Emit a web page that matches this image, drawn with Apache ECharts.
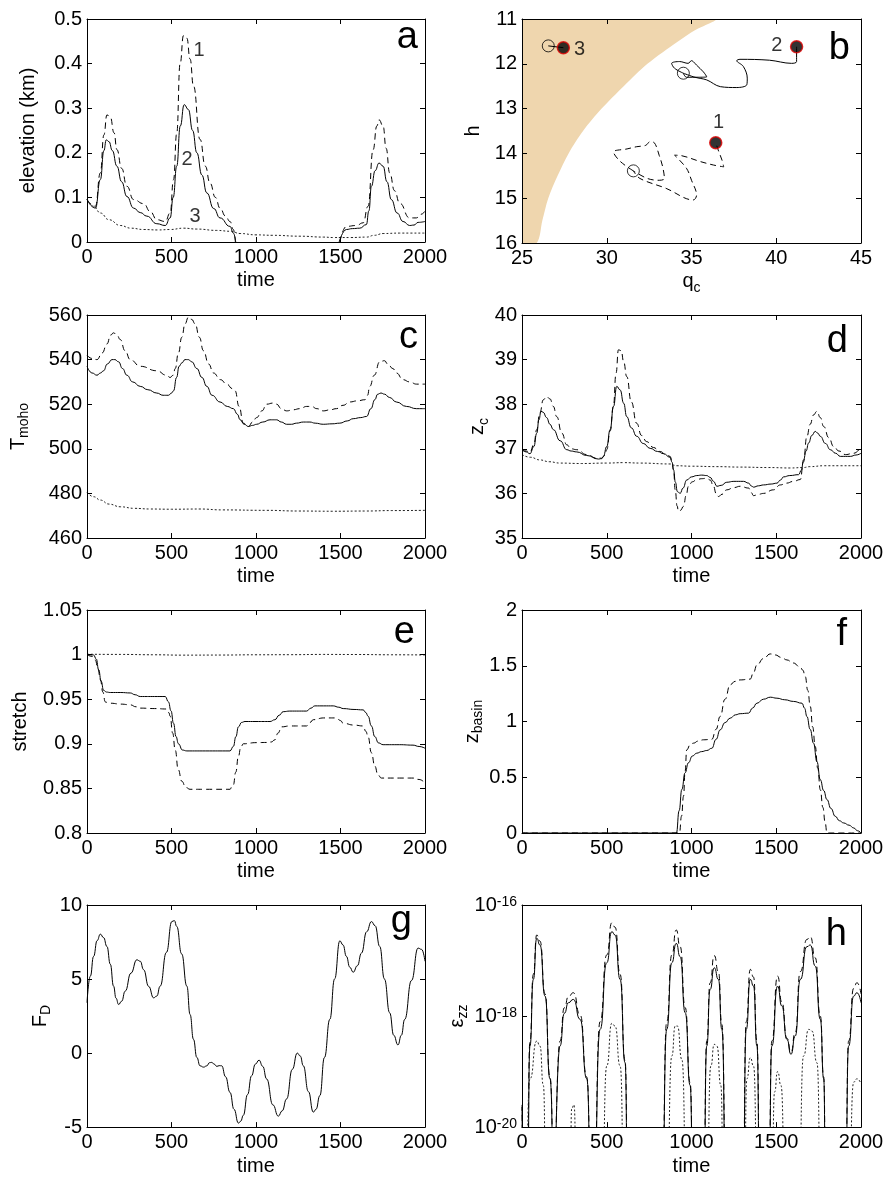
<!DOCTYPE html>
<html><head><meta charset="utf-8">
<script src="https://cdn.jsdelivr.net/npm/echarts@6/dist/echarts.min.js"></script>
<style>html,body{margin:0;padding:0;background:#fff}#c{width:887px;height:1180px}</style>
</head><body><div id="c"></div>
<script>
// ---------------- DATA ----------------
// panel a: elevation (km) vs time  [time, value]
const aDashed = [[0,0.095],[50,0.08],[79,0.155],[100,0.24],[118,0.285],[138,0.28],[160,0.245],[177,0.207],[205,0.165],[236,0.125],[276,0.095],[335,0.086],[375,0.068],[413,0.05],[463,0.046],[492,0.065],[512,0.14],[531,0.244],[551,0.40],[571,0.463],[591,0.457],[610,0.41],[630,0.35],[669,0.23],[700,0.17],[728,0.132],[760,0.10],[787,0.076],[820,0.058],[846,0.046],[866,0.028],[878,0],[880,null],[1494,null],[1496,0],[1535,0.035],[1594,0.037],[1634,0.043],[1663,0.08],[1693,0.207],[1715,0.26],[1728,0.274],[1752,0.26],[1770,0.21],[1791,0.155],[1820,0.115],[1850,0.087],[1909,0.054],[1949,0.054],[1975,0.062],[2000,0.069]];
const aSolid = [[0,0.095],[50,0.076],[79,0.14],[100,0.205],[114,0.229],[130,0.225],[150,0.205],[177,0.17],[205,0.135],[236,0.102],[276,0.076],[315,0.066],[354,0.058],[413,0.041],[463,0.037],[492,0.054],[510,0.1],[531,0.17],[552,0.26],[575,0.308],[600,0.297],[625,0.25],[650,0.2],[680,0.15],[709,0.11],[750,0.075],[787,0.054],[846,0.035],[866,0.02],[880,0],[882,null],[1490,null],[1492,0],[1535,0.028],[1570,0.03],[1614,0.031],[1653,0.039],[1668,0.07],[1683,0.125],[1705,0.16],[1728,0.177],[1752,0.17],[1775,0.135],[1801,0.095],[1835,0.065],[1870,0.046],[1909,0.037],[1935,0.038],[1959,0.044],[2000,0.046]];
const aDotted = [[0,0.096],[40,0.08],[79,0.065],[130,0.05],[197,0.037],[260,0.031],[335,0.028],[420,0.027],[492,0.028],[571,0.031],[650,0.029],[768,0.026],[850,0.024],[906,0.019],[1000,0.016],[1100,0.015],[1260,0.013],[1400,0.011],[1457,0.01],[1560,0.01],[1654,0.011],[1700,0.015],[1752,0.019],[1850,0.02],[2000,0.02]];
const aLabels = [{name:'1',value:[663,0.43]},{name:'2',value:[592,0.184]},{name:'3',value:[639,0.058]}];

// panel b: h vs q_c trajectories [q_c, h]
const bRegion = [[25,11],[36.4,11],[35.2,11.25],[34.2,11.5],[32.4,12],[31.0,12.5],[29.7,13],[28.6,13.5],[27.75,14],[27.1,14.5],[26.55,15],[26.2,15.5],[25.87,16],[25,16]];
const bDashed = [[31.57,14.39],[30.8,14.18],[30.4,13.97],[31.2,13.9],[31.77,13.85],[32.3,13.82],[32.55,13.74],[32.8,13.76],[33.1,14.05],[33.3,14.3],[33.4,14.56],[33.1,14.6],[32.4,14.56],[31.57,14.39],[31.96,14.56],[33.5,14.78],[35.1,15.04],[35.3,14.93],[35.0,14.6],[34.7,14.33],[34.0,14.04],[34.4,14.05],[35.5,14.18],[36.3,14.26],[36.9,14.3],[36.8,14.15],[36.6,13.95],[36.43,13.76]];
const bSolid = [[34.52,12.21],[34.0,12.1],[33.83,11.99],[34.3,11.95],[34.8,11.99],[35.0,11.93],[35.1,11.95],[35.3,12.03],[35.7,12.18],[35.9,12.29],[35.4,12.3],[34.7,12.3],[34.52,12.21],[35.2,12.3],[35.9,12.36],[36.7,12.51],[37.67,12.53],[38.26,12.47],[38.29,12.32],[38.06,12.06],[37.67,11.93],[37.86,11.9],[39.6,11.92],[40.9,11.99],[41.2,11.95],[41.2,11.62]];
const bShort = [[26.55,11.6],[27.44,11.64]];
const bStart = [[31.57,14.39],[34.52,12.21],[26.55,11.6]];
const bEnd = [[36.43,13.76],[41.2,11.62],[27.44,11.64]];
const bLabels = [{name:'1',value:[36.6,13.32]},{name:'2',value:[40.04,11.6]},{name:'3',value:[28.4,11.69]}];

// panel c: T_moho
const cDashed = [[0,542],[30,540.5],[59,540],[90,543],[118,547],[140,551],[157,552],[177,551],[197,549],[225,544],[256,540],[315,537],[413,535],[470,533],[492,532],[510,533],[522,536],[541,543],[561,550],[580,556],[600,559],[620,558],[640,556],[665,550],[689,544],[720,538],[748,534],[790,531],[827,529],[860,527],[876,526],[900,519],[925,511.5],[955,510],[980,512],[1004,514],[1035,517],[1063,520],[1100,520.5],[1122,520],[1150,518],[1181,517],[1220,517.5],[1260,518],[1300,519],[1329,519],[1360,518],[1398,517],[1440,517.5],[1476,518],[1515,519.5],[1555,521],[1600,521.5],[1644,522],[1660,524],[1673,528],[1700,533],[1732,539],[1760,539.5],[1780,538],[1810,536],[1831,534],[1870,531],[1909,530],[1950,529],[2000,529]];
const cSolid = [[0,537],[30,534],[59,533],[80,534],[98,535],[120,538],[148,540],[165,540],[187,539],[210,536],[236,533],[270,530],[315,528],[360,526.5],[413,525],[450,524],[482,524],[500,525],[512,526],[530,532],[545,537],[561,538.5],[580,540],[600,540],[620,539],[650,536],[680,532],[709,528],[740,524],[787,521],[830,519],[866,518],[890,515.5],[906,513],[930,511],[955,510],[980,510.5],[1004,511],[1040,512],[1083,513],[1110,513],[1122,513],[1150,512],[1181,511],[1210,511],[1240,511.5],[1280,512],[1319,512],[1350,511.5],[1398,511],[1450,511.2],[1496,511.5],[1540,512.5],[1575,513.5],[1620,514],[1654,514.5],[1680,518],[1703,522],[1720,524.5],[1740,525],[1760,524.5],[1791,523],[1830,521],[1890,519],[1949,518],[2000,518]];
const cDotted = [[0,480.5],[40,478.5],[79,477],[130,475.2],[197,474],[280,473.3],[374,473],[500,472.9],[669,473],[800,472.6],[1063,472.4],[1250,472.1],[1457,472],[1650,472.1],[1800,472.3],[2000,472.4]];

// panel d: z_c
const dDashed = [[0,36.98],[25,36.95],[47,36.92],[70,37.1],[87,37.43],[105,37.8],[126,38.1],[145,38.17],[165,38.12],[185,37.95],[205,37.72],[235,37.35],[264,37.09],[290,37.0],[323,36.98],[382,36.87],[441,36.79],[470,36.79],[488,36.85],[500,36.98],[520,37.4],[539,37.95],[555,38.7],[569,39.22],[585,39.2],[600,38.95],[618,38.62],[645,38.05],[677,37.57],[705,37.3],[736,37.16],[775,37.03],[815,36.94],[850,36.87],[874,36.83],[885,36.7],[894,36.53],[904,36.08],[915,35.72],[923,35.6],[935,35.62],[953,35.71],[968,35.95],[982,36.16],[1005,36.26],[1031,36.31],[1060,36.33],[1090,36.34],[1110,36.3],[1130,36.16],[1145,36.0],[1159,35.93],[1180,35.98],[1208,36.08],[1250,36.13],[1287,36.16],[1337,36.12],[1352,36.02],[1366,35.95],[1395,35.98],[1425,36.0],[1484,36.08],[1524,36.19],[1560,36.23],[1602,36.27],[1642,36.31],[1660,36.7],[1681,37.28],[1700,37.55],[1720,37.76],[1740,37.84],[1760,37.7],[1780,37.5],[1810,37.25],[1839,37.05],[1870,36.95],[1908,36.87],[1957,36.9],[2000,37.05]];
const dSolid = [[0,36.98],[25,36.93],[47,36.89],[70,37.05],[87,37.35],[100,37.65],[112,37.84],[125,37.82],[145,37.7],[165,37.55],[185,37.43],[225,37.18],[264,36.98],[290,36.95],[323,36.93],[382,36.85],[451,36.77],[470,36.78],[480,36.83],[500,37.05],[520,37.43],[540,37.95],[559,38.4],[579,38.32],[600,38.02],[618,37.72],[645,37.47],[677,37.28],[715,37.12],[756,37.01],[800,36.94],[835,36.89],[874,36.81],[885,36.7],[894,36.53],[905,36.25],[917,36.04],[933,36.0],[950,36.12],[972,36.3],[1000,36.37],[1031,36.4],[1060,36.41],[1090,36.4],[1110,36.36],[1130,36.27],[1150,36.16],[1175,36.18],[1208,36.25],[1250,36.27],[1307,36.27],[1337,36.23],[1352,36.17],[1366,36.14],[1395,36.17],[1425,36.19],[1470,36.21],[1504,36.23],[1525,36.3],[1543,36.37],[1580,36.4],[1632,36.42],[1648,36.52],[1661,36.75],[1676,36.95],[1691,37.13],[1710,37.3],[1730,37.39],[1745,37.35],[1760,37.28],[1790,37.12],[1819,36.98],[1850,36.9],[1878,36.83],[1937,36.83],[1970,36.86],[2000,36.9]];
const dDotted = [[0,36.87],[50,36.81],[106,36.75],[160,36.71],[224,36.68],[350,36.67],[500,36.68],[598,36.69],[700,36.68],[874,36.66],[900,36.63],[913,36.62],[1000,36.61],[1150,36.6],[1287,36.59],[1450,36.58],[1583,36.57],[1660,36.58],[1700,36.6],[1780,36.62],[2000,36.62]];

// panel e: stretch
const eSolid = [[0,1.0],[39,0.9996],[55,0.995],[69,0.983],[84,0.97],[98,0.96],[115,0.958],[138,0.9575],[200,0.9575],[256,0.957],[285,0.955],[315,0.953],[400,0.953],[463,0.953],[482,0.947],[497,0.937],[512,0.923],[527,0.908],[541,0.9],[565,0.893],[591,0.892],[700,0.892],[846,0.892],[866,0.897],[881,0.908],[896,0.919],[915,0.924],[935,0.925],[1000,0.925],[1083,0.925],[1112,0.927],[1137,0.932],[1161,0.936],[1200,0.9367],[1299,0.9367],[1325,0.94],[1348,0.9425],[1400,0.9425],[1457,0.9425],[1490,0.941],[1516,0.9395],[1580,0.9385],[1634,0.938],[1650,0.935],[1663,0.931],[1683,0.92],[1703,0.908],[1725,0.901],[1752,0.899],[1850,0.899],[1929,0.8985],[1965,0.897],[2000,0.895]];
const eDashed = [[0,1.0],[30,0.998],[49,0.994],[65,0.984],[79,0.972],[94,0.958],[108,0.947],[125,0.9457],[138,0.9455],[200,0.9445],[256,0.9437],[290,0.9415],[315,0.94],[400,0.9395],[472,0.939],[484,0.935],[492,0.931],[507,0.912],[522,0.893],[540,0.871],[561,0.858],[585,0.851],[610,0.849],[700,0.849],[846,0.849],[858,0.852],[866,0.854],[880,0.868],[896,0.886],[910,0.896],[925,0.9],[1000,0.9013],[1063,0.9015],[1090,0.902],[1112,0.9045],[1130,0.912],[1152,0.919],[1200,0.92],[1299,0.92],[1320,0.924],[1339,0.927],[1400,0.929],[1476,0.929],[1500,0.926],[1516,0.923],[1580,0.921],[1634,0.92],[1650,0.914],[1663,0.908],[1683,0.89],[1703,0.875],[1722,0.865],[1742,0.8616],[1850,0.8616],[1929,0.8616],[1965,0.86],[2000,0.856]];
const eDotted = [[0,1.0004],[200,1.0002],[400,0.9998],[560,0.9994],[800,0.9995],[1000,0.9998],[1200,0.9999],[1400,1.0002],[1600,1.0001],[1800,0.9998],[2000,0.9996]];

// panel f: z_basin
const fSolid = [[0,0],[911,0],[927,0.2],[943,0.39],[962,0.54],[982,0.63],[1005,0.69],[1031,0.716],[1060,0.73],[1090,0.74],[1120,0.76],[1145,0.84],[1169,0.925],[1198,0.99],[1228,1.03],[1260,1.06],[1287,1.07],[1337,1.075],[1360,1.12],[1386,1.164],[1425,1.2],[1465,1.218],[1504,1.209],[1550,1.195],[1602,1.18],[1652,1.164],[1667,1.12],[1681,1.045],[1700,0.93],[1720,0.806],[1740,0.64],[1760,0.478],[1780,0.38],[1799,0.3],[1823,0.22],[1848,0.15],[1873,0.11],[1898,0.09],[1930,0.07],[1957,0.045],[1980,0.02],[2000,0]];
const fDashed = [[0,0],[929,0],[941,0.15],[953,0.33],[962,0.55],[972,0.746],[992,0.79],[1012,0.806],[1040,0.825],[1071,0.836],[1120,0.84],[1145,0.93],[1169,1.045],[1198,1.2],[1228,1.33],[1257,1.36],[1287,1.373],[1346,1.38],[1366,1.44],[1386,1.507],[1425,1.565],[1465,1.606],[1494,1.597],[1530,1.575],[1563,1.552],[1600,1.525],[1642,1.487],[1657,1.46],[1671,1.403],[1686,1.28],[1701,1.134],[1715,0.95],[1730,0.776],[1745,0.58],[1760,0.388],[1775,0.23],[1789,0.09],[1799,0],[2000,0]];

// panel g: F_D
const gSolid = [[0,3.4],[20,5.2],[39,6.53],[60,7.6],[79,8.03],[98,7.8],[118,7.2],[138,6.0],[157,4.52],[172,3.7],[187,3.28],[205,3.5],[226,4.18],[260,5.4],[295,6.3],[315,6.2],[335,5.63],[365,4.5],[394,3.73],[413,3.85],[433,4.52],[470,6.8],[502,8.88],[517,8.95],[531,8.55],[560,6.7],[591,4.52],[610,2.6],[630,0.93],[650,-0.3],[669,-0.86],[690,-0.95],[709,-0.86],[725,-0.65],[738,-0.63],[753,-0.75],[768,-0.9],[782,-0.85],[797,-0.86],[820,-1.6],[846,-2.65],[870,-3.8],[896,-4.73],[910,-4.6],[925,-4.2],[950,-2.8],[974,-1.53],[996,-0.75],[1018,-0.48],[1040,-0.9],[1063,-1.75],[1100,-3.5],[1132,-4.26],[1155,-3.9],[1181,-3.1],[1215,-1.1],[1244,0.0],[1262,-0.2],[1280,-0.86],[1310,-2.6],[1339,-3.99],[1355,-3.8],[1378,-2.87],[1405,-0.3],[1437,2.28],[1465,5.0],[1496,7.58],[1515,7.3],[1535,6.53],[1555,5.8],[1575,5.46],[1600,5.9],[1624,6.75],[1655,8.2],[1683,8.88],[1705,8.6],[1732,7.2],[1760,5.0],[1791,2.72],[1815,1.2],[1840,0.55],[1860,1.2],[1880,2.28],[1920,4.9],[1959,7.09],[1980,7.0],[2000,6.2]];

// panel h: strain rate, stored as log10(eps_zz); -21.5 = below the axis floor
const hSolidLog = [[0,-19.64],[14,-21.5],[31,-21.5],[47,-18.54],[67,-17.34],[87,-16.6],[106,-16.72],[136,-17.64],[165,-19.13],[192,-21.5],[195,-21.5],[224,-18.54],[250,-17.95],[274,-17.76],[303,-17.7],[343,-18.06],[382,-19.13],[410,-21.5],[421,-21.5],[461,-18.24],[500,-17.04],[530,-16.48],[549,-16.54],[579,-17.34],[608,-18.84],[625,-21.5],[825,-21.5],[854,-18.24],[884,-17.04],[910,-16.69],[933,-16.93],[963,-17.94],[992,-19.25],[1010,-21.5],[1071,-21.5],[1090,-18.54],[1110,-17.52],[1134,-17.13],[1159,-17.34],[1179,-18.24],[1205,-21.5],[1303,-21.5],[1323,-18.24],[1347,-17.34],[1366,-17.46],[1386,-18.54],[1404,-21.5],[1455,-21.5],[1474,-18.54],[1508,-17.46],[1533,-17.82],[1563,-18.42],[1587,-18.69],[1612,-18.36],[1642,-17.34],[1681,-16.75],[1701,-16.72],[1730,-17.1],[1760,-18.06],[1780,-19.13],[1792,-21.5],[1907,-21.5],[1927,-18.54],[1957,-17.64],[1976,-17.58],[2000,-17.76]];
const hDashedLog = [[0,-19.6],[14,-21.5],[29,-21.5],[47,-18.45],[67,-17.25],[87,-16.54],[106,-16.65],[136,-17.6],[165,-19.1],[193,-21.5],[194,-21.5],[224,-18.45],[250,-17.85],[274,-17.65],[303,-17.58],[343,-17.98],[382,-19.1],[411,-21.5],[420,-21.5],[461,-18.1],[500,-16.9],[530,-16.32],[549,-16.4],[579,-17.25],[608,-18.8],[626,-21.5],[824,-21.5],[854,-18.1],[884,-16.9],[910,-16.45],[933,-16.75],[963,-17.85],[992,-19.2],[1011,-21.5],[1070,-21.5],[1090,-18.45],[1110,-17.4],[1134,-16.91],[1159,-17.2],[1179,-18.15],[1206,-21.5],[1302,-21.5],[1323,-18.1],[1347,-17.16],[1366,-17.3],[1386,-18.45],[1405,-21.5],[1454,-21.5],[1474,-18.45],[1508,-17.28],[1533,-17.75],[1563,-18.4],[1587,-18.65],[1612,-18.3],[1642,-17.2],[1681,-16.62],[1701,-16.57],[1730,-16.95],[1760,-18.0],[1780,-19.1],[1793,-21.5],[1906,-21.5],[1927,-18.45],[1957,-17.5],[1976,-17.4],[2000,-17.6]];
const hDottedLog = [[0,-21.5],[18,-21.5],[47,-19.13],[87,-18.45],[106,-18.54],[126,-19.25],[143,-21.5],[283,-21.5],[293,-19.67],[307,-19.6],[323,-21.5],[470,-21.5],[500,-18.9],[530,-18.13],[549,-18.18],[579,-18.9],[605,-21.5],[853,-21.5],[884,-18.72],[904,-18.18],[917,-18.18],[943,-18.78],[973,-21.5],[1089,-21.5],[1114,-18.9],[1134,-18.51],[1150,-18.54],[1173,-19.25],[1190,-21.5],[1310,-21.5],[1327,-19.13],[1347,-18.75],[1366,-18.9],[1391,-21.5],[1473,-21.5],[1490,-19.37],[1508,-19.0],[1528,-19.25],[1554,-21.5],[1631,-21.5],[1661,-18.72],[1691,-18.24],[1711,-18.27],[1740,-18.84],[1765,-21.5],[1926,-21.5],[1957,-19.19],[1976,-19.13],[2000,-19.22]];

const panelLetters = ['a','b','c','d','e','f','g','h'];

// ---------------- LAYOUT / STYLE ----------------
const FONT = '"Liberation Sans", Arial, Helvetica, sans-serif';
const GRIDS = [
  {left:87, top:19, width:338, height:223},{left:522, top:19, width:339, height:224},
  {left:87, top:315, width:338, height:223},{left:522, top:315, width:339, height:223},
  {left:87, top:610, width:338, height:223},{left:522, top:610, width:339, height:223},
  {left:87, top:905, width:338, height:223},{left:522, top:905, width:339, height:223}
];
const LETTERPOS = [[418,38],[850,49],[418,338],[848,342],[415,633],[847,635],[412,922],[847,935]];
const RICH = {
  sub:{fontSize:14, fontFamily:FONT, color:'#000', verticalAlign:'bottom', lineHeight:14},
  sup:{fontSize:14, fontFamily:FONT, color:'#000', verticalAlign:'top', lineHeight:14}
};
const plain = v => String(v);
const timeAxis = {min:0, max:2000, interval:500, name:'time', nameGap:24, formatter:plain};
const PANELS = [
  {x:timeAxis, y:{min:0,max:0.5,interval:0.1,name:'elevation (km)',nameGap:46,formatter:plain}},
  {x:{min:25,max:45,interval:5,name:'q{sub|c}',nameGap:24,formatter:plain}, y:{min:11,max:16,interval:1,inverse:true,name:'h',nameGap:36,formatter:plain}},
  {x:timeAxis, y:{min:460,max:560,interval:20,name:'T{sub|moho}',nameGap:56,formatter:plain}},
  {x:timeAxis, y:{min:35,max:40,interval:1,name:'z{sub|c}',nameGap:28,formatter:plain}},
  {x:timeAxis, y:{min:0.8,max:1.05,interval:0.05,name:'stretch',nameGap:54,formatter:plain}},
  {x:timeAxis, y:{min:0,max:2,interval:0.5,name:'z{sub|basin}',nameGap:32,formatter:plain}},
  {x:timeAxis, y:{min:-5,max:10,interval:5,name:'F{sub|D}',nameGap:34,formatter:plain}},
  {x:timeAxis, y:{type:'log',min:1e-20,max:1e-16,interval:2,name:'ε{sub|zz}',nameGap:50,
     formatter:v=>'10{sup|'+Math.round(Math.log10(v))+'}'}}
];

function axes(dim, gi, c){
  const base = {
    gridIndex:gi, type:c.type||'value', min:c.min, max:c.max, interval:c.interval,
    inverse:!!c.inverse, z:5,
    axisLine:{show:true, onZero:false, lineStyle:{color:'#000', width:1}},
    axisTick:{show:true, inside:true, length:5, lineStyle:{color:'#000', width:1}},
    splitLine:{show:false}, minorTick:{show:false}, minorSplitLine:{show:false}
  };
  if (c.type === 'log') base.logBase = 10;
  const main = Object.assign({}, base, {
    position: dim==='x' ? 'bottom' : 'left',
    axisLabel:{show:true, color:'#000', fontSize:20, fontFamily:FONT, margin:5,
      formatter:c.formatter, rich:RICH, showMinLabel:true, showMaxLabel:true},
    name:c.name, nameLocation:'middle', nameGap:c.nameGap, nameRotate: dim==='y'?90:0,
    nameTextStyle:{color:'#000', fontSize:20, fontFamily:FONT, lineHeight:26, rich:RICH}
  });
  const mirror = Object.assign({}, base, {position: dim==='x'?'top':'right', axisLabel:{show:false}, name:''});
  return [main, mirror];
}

const xAxis = [], yAxis = [];
PANELS.forEach((p,i)=>{ xAxis.push(...axes('x',i,p.x)); yAxis.push(...axes('y',i,p.y)); });

const STY = {
  solid:{color:'#000', width:1, type:'solid'},
  dashed:{color:'#000', width:1, type:[6,4]},
  dotted:{color:'#222', width:1, type:[2,2]}
};
function line(i, data, sty, smooth){
  return {type:'line', xAxisIndex:2*i, yAxisIndex:2*i, data:data, showSymbol:false, symbol:'none',
    smooth: smooth===undefined?0.5:smooth, smoothMonotone:'x',
    lineStyle:STY[sty], clip:true, silent:true, z:3, connectNulls:false};
}
function labels(i, data){
  return {type:'scatter', xAxisIndex:2*i, yAxisIndex:2*i, data:data, symbolSize:1, itemStyle:{color:'rgba(0,0,0,0)'},
    label:{show:true, position:'inside', formatter:'{b}', color:'#000', fontSize:20, fontFamily:FONT}, z:6, silent:true};
}
const pow10 = arr => arr.map(([t,e]) => [t, Math.pow(10, e)]);

const series = [
  line(0,aDashed,'dashed'), line(0,aSolid,'solid'), line(0,aDotted,'dotted'), labels(0,aLabels),
  {type:'custom', xAxisIndex:2, yAxisIndex:2, data:bRegion, clip:true, z:1, silent:true,
   renderItem:(params, api)=>{
     if (params.dataIndex !== 0) return null;
     return {type:'polygon', shape:{points:bRegion.map(p=>api.coord(p)), smooth:0.3}, style:{fill:'#EFD6AE', stroke:null}};
   }},
  {type:'line', xAxisIndex:2, yAxisIndex:2, data:bDashed, symbol:'none', smooth:0.35, lineStyle:STY.dashed, z:3, silent:true},
  {type:'line', xAxisIndex:2, yAxisIndex:2, data:bSolid, symbol:'none', smooth:0.35, lineStyle:STY.solid, z:3, silent:true},
  {type:'line', xAxisIndex:2, yAxisIndex:2, data:bShort, symbol:'none', lineStyle:STY.solid, z:3, silent:true},
  {type:'scatter', xAxisIndex:2, yAxisIndex:2, data:bStart, symbolSize:12, itemStyle:{color:'rgba(0,0,0,0)', borderColor:'#000', borderWidth:1}, z:4, silent:true},
  {type:'scatter', xAxisIndex:2, yAxisIndex:2, data:bEnd, symbolSize:12, itemStyle:{color:'#000', borderColor:'#d00', borderWidth:1.5}, z:4, silent:true},
  labels(1,bLabels),
  line(2,cDashed,'dashed'), line(2,cSolid,'solid'), line(2,cDotted,'dotted'),
  line(3,dDashed,'dashed'), line(3,dSolid,'solid'), line(3,dDotted,'dotted'),
  line(4,eDashed,'dashed'), line(4,eSolid,'solid'), line(4,eDotted,'dotted'),
  line(5,fDashed,'dashed'), line(5,fSolid,'solid'),
  line(6,gSolid,'solid'),
  line(7,pow10(hDashedLog),'dashed',0.6), line(7,pow10(hSolidLog),'solid',0.6), line(7,pow10(hDottedLog),'dotted',0.6)
];

const graphic = panelLetters.map((t,i)=>({type:'text', x:LETTERPOS[i][0], y:LETTERPOS[i][1], z:10,
  style:{text:t, fontSize:38, fontFamily:FONT, fill:'#000', textAlign:'right', textVerticalAlign:'middle'}}));

const chart = echarts.init(document.getElementById('c'), null, {renderer:'canvas'});
chart.setOption({
  animation:false, backgroundColor:'#fff', textStyle:{fontFamily:FONT},
  grid: GRIDS.map(g=>Object.assign({containLabel:false, show:false}, g)),
  xAxis, yAxis, series, graphic
});
</script></body></html>
